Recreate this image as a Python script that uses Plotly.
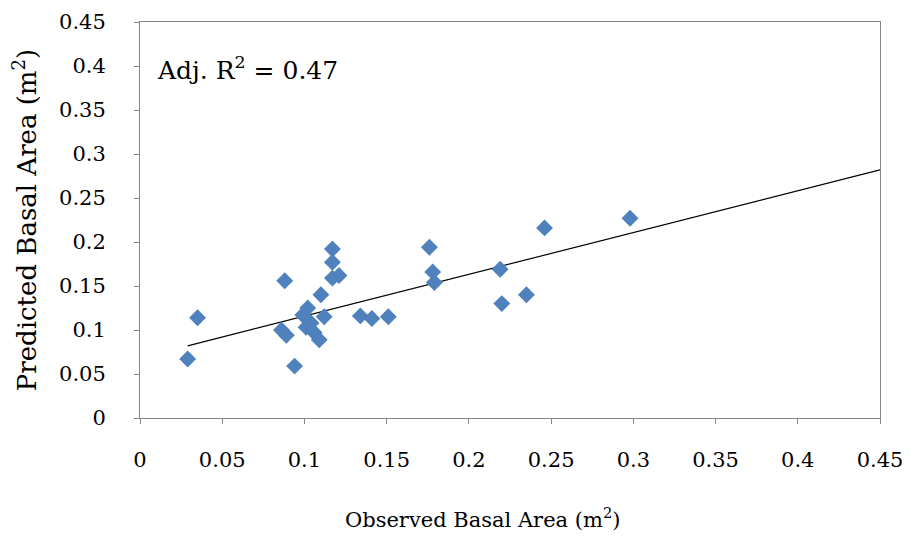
import plotly.graph_objects as go

observed = [0.029, 0.035, 0.086, 0.089, 0.088, 0.094, 0.117, 0.117, 0.117, 0.121,
            0.110, 0.134, 0.141, 0.151, 0.176, 0.178, 0.179, 0.219, 0.220, 0.235,
            0.246, 0.298, 0.102, 0.099, 0.112, 0.101, 0.106, 0.109, 0.104]
predicted = [0.067, 0.114, 0.100, 0.094, 0.156, 0.059, 0.192, 0.177, 0.159, 0.162,
             0.140, 0.116, 0.113, 0.115, 0.194, 0.166, 0.154, 0.169, 0.130, 0.140,
             0.216, 0.227, 0.125, 0.117, 0.115, 0.103, 0.097, 0.089, 0.108]

trend_x = [0.029, 0.45]
trend_y = [0.082, 0.282]

tick_vals = [0, 0.05, 0.1, 0.15, 0.2, 0.25, 0.3, 0.35, 0.4, 0.45]
tick_text = ["0", "0.05", "0.1", "0.15", "0.2", "0.25", "0.3", "0.35", "0.4", "0.45"]

serif = "DejaVu Serif"

fig = go.Figure()
fig.add_trace(go.Scatter(x=trend_x, y=trend_y, mode="lines",
                         line=dict(color="#000000", width=1.2), showlegend=False,
                         hoverinfo="skip"))
fig.add_trace(go.Scatter(x=observed, y=predicted, mode="markers",
                         marker=dict(symbol="diamond", size=13, color="#4F81BD",
                                     line=dict(width=0)),
                         showlegend=False))

axis_common = dict(
    range=[0, 0.45], tickvals=tick_vals, ticktext=tick_text, automargin=False,
    showgrid=False, zeroline=False, showline=True, linecolor="#868686", linewidth=1,
    mirror=True, ticks="outside", ticklen=5, tickcolor="#868686",
    tickfont=dict(family=serif, size=21, color="#000000"),
)

fig.update_layout(
    width=902, height=528,
    margin=dict(l=132, r=30, t=14, b=118),
    paper_bgcolor="white", plot_bgcolor="white",
    xaxis=dict(**axis_common, ticklabelstandoff=18),
    yaxis=dict(**axis_common,
               title=dict(text="Predicted Basal Area (m<sup>2</sup>)",
                          font=dict(family=serif, size=26, color="#000000"),
                          standoff=24),
               ticklabelstandoff=24),
    annotations=[
        dict(x=0.009, y=0.397, xref="x", yref="y", xanchor="left", yanchor="middle",
             text="Adj. R<sup>2</sup> = 0.47", showarrow=False,
             font=dict(family=serif, size=25, color="#000000")),
        dict(x=0.4635, y=-0.253, xref="paper", yref="paper", xanchor="center",
             yanchor="middle", text="Observed Basal Area (m<sup>2</sup>)", showarrow=False,
             font=dict(family=serif, size=21, color="#000000")),
    ],
)

fig.write_html("out.html")
